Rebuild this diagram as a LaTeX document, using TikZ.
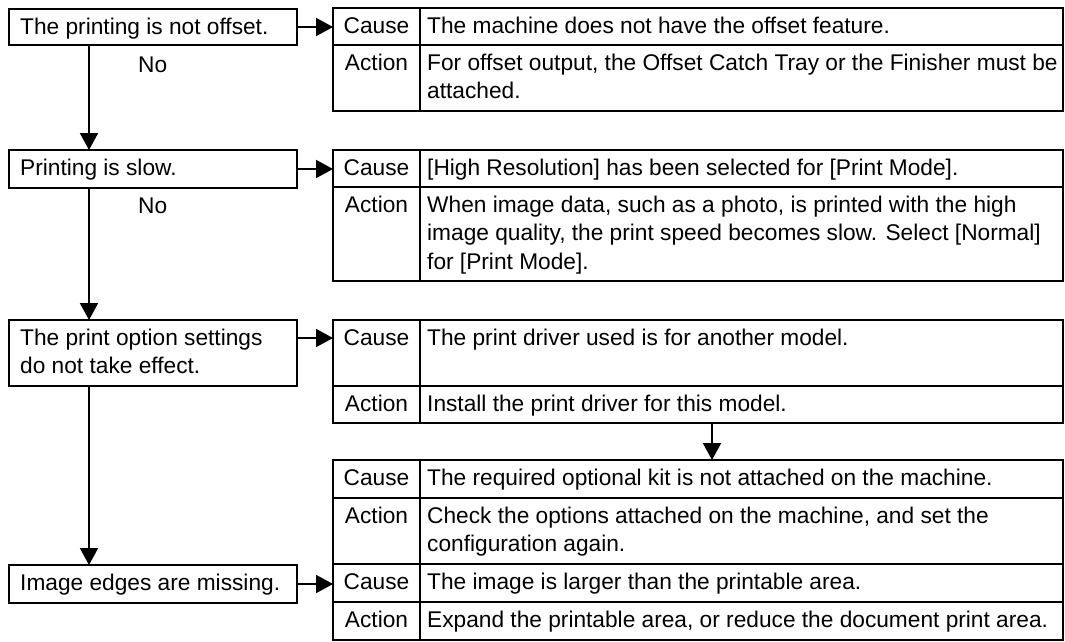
\documentclass[tikz,border=0pt]{standalone}
\usepackage{fontspec}
\setmainfont{Liberation Sans}
\usetikzlibrary{arrows.meta,calc}
\begin{document}
\begin{tikzpicture}[x=1pt,y=-1pt,
  ln/.style={line width=2pt},
  frame/.style={draw, line width=2pt, rectangle, anchor=north west, inner sep=0pt, outer sep=0pt},
  txt/.style={anchor=north west, inner sep=0pt, align=left, font=\fontsize{22.7}{28.5}\selectfont},
  lab/.style={anchor=north, inner sep=0pt, font=\fontsize{22.7}{28.5}\selectfont},
  arr/.style={line width=2pt, -{Triangle[length=17pt,width=18pt]}}]
\fill[white] (0,0) rectangle (1065,641);
\useasboundingbox (0,0) rectangle (1065,641);

% ---------- question boxes ----------
\node[frame, minimum width=288, minimum height=36] (B1) at (9,9) {};
\node[txt] (B1t) at (20,14) {\strut The printing is not offset.};
\node[frame, minimum width=288, minimum height=38] (B2) at (9,150) {};
\node[txt] (B2t) at (20,155) {\strut Printing is slow.};
\node[frame, minimum width=288, minimum height=66] (B3) at (9,320) {};
\node[txt] (B3t) at (20,325) {\strut The print option settings\\\strut do not take effect.};
\node[frame, minimum width=288, minimum height=38] (B4) at (9,565) {};
\node[txt] (B4t) at (20,570) {\strut Image edges are missing.};

\node[txt] (N1) at (138,52) {\strut No};
\node[txt] (N2) at (138,193) {\strut No};

% ---------- tables ----------
% T1
\node[frame, minimum width=730, minimum height=103] (T1) at (333,8) {};
\draw[ln] (420,8) -- (420,111);
\draw[ln] (333,45) -- (1063,45);
\node[lab] (T1c) at (376.5,13) {\strut Cause};
\node[lab] (T1a) at (376.5,50) {\strut Action};
\node[txt] (T1ct) at (427,13) {\strut The machine does not have the offset feature.};
\node[txt] (T1at) at (427,50) {\strut For offset output, the Offset Catch Tray or the Finisher must be\\\strut attached.};
% T2
\node[frame, minimum width=730, minimum height=131] (T2) at (333,150) {};
\draw[ln] (420,150) -- (420,281);
\draw[ln] (333,187) -- (1063,187);
\node[lab] (T2c) at (376.5,155) {\strut Cause};
\node[lab] (T2a) at (376.5,192) {\strut Action};
\node[txt] (T2ct) at (427,155) {\strut [High Resolution] has been selected for [Print Mode].};
\node[txt] (T2at) at (427,192) {\strut When image data, such as a photo, is printed with the high\\\strut image quality, the print speed becomes slow. Select [Normal]\\\strut for [Print Mode].};
% T3
\node[frame, minimum width=730, minimum height=103] (T3) at (333,320) {};
\draw[ln] (420,320) -- (420,423);
\draw[ln] (333,386) -- (1063,386);
\node[lab] (T3c) at (376.5,325) {\strut Cause};
\node[lab] (T3a) at (376.5,391) {\strut Action};
\node[txt] (T3ct) at (427,325) {\strut The print driver used is for another model.};
\node[txt] (T3at) at (427,391) {\strut Install the print driver for this model.};
% T4
\node[frame, minimum width=730, minimum height=104] (T4) at (333,460) {};
\draw[ln] (420,460) -- (420,564);
\draw[ln] (333,498) -- (1063,498);
\node[lab] (T4c) at (376.5,465) {\strut Cause};
\node[lab] (T4a) at (376.5,503) {\strut Action};
\node[txt] (T4ct) at (427,465) {\strut The required optional kit is not attached on the machine.};
\node[txt] (T4at) at (427,503) {\strut Check the options attached on the machine, and set the\\\strut configuration again.};
% T5
\node[frame, minimum width=730, minimum height=76] (T5) at (333,564) {};
\draw[ln] (420,564) -- (420,640);
\draw[ln] (333,602) -- (1063,602);
\node[lab] (T5c) at (376.5,569) {\strut Cause};
\node[lab] (T5a) at (376.5,607) {\strut Action};
\node[txt] (T5ct) at (427,569) {\strut The image is larger than the printable area.};
\node[txt] (T5at) at (427,607) {\strut Expand the printable area, or reduce the document print area.};

% ---------- connectors ----------
\draw[arr] (B1.east) -- (B1.east -| T1.west);
\draw[arr] (B2.east) -- (B2.east -| T2.west);
\coordinate (B3o) at ($(B3.north east)+(0,18)$);
\draw[arr] (B3o) -- (B3o -| T3.west);
\draw[arr] (B4.east) -- (B4.east -| T5.west);

\draw[arr] ($(B1.south west)+(80,0)$) -- ($(B2.north west)+(80,0)$);
\draw[arr] ($(B2.south west)+(80,0)$) -- ($(B3.north west)+(80,0)$);
\draw[arr] ($(B3.south west)+(80,0)$) -- ($(B4.north west)+(80,0)$);
\draw[arr] ($(T3.south west)+(379,0)$) -- ($(T4.north west)+(379,0)$);
\end{tikzpicture}
\end{document}
